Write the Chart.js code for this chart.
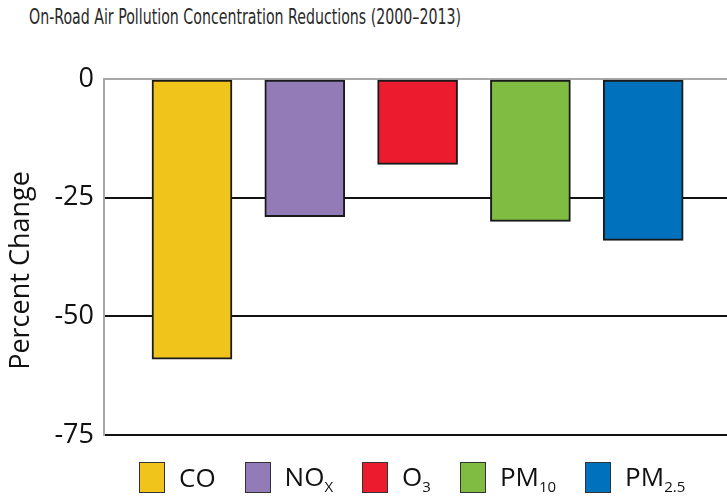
<!DOCTYPE html>
<html>
<head>
<meta charset="utf-8">
<script src="https://cdn.jsdelivr.net/npm/chart.js@4.4.1/dist/chart.umd.min.js"></script>
<style>
  html, body { margin: 0; padding: 0; background: #fff; overflow: hidden; width: 727px; height: 499px; }
  #title { position: absolute; left: 29px; top: 4px; font: 22px "DejaVu Sans Condensed", "Liberation Sans", sans-serif; color: #2a2a2a; white-space: nowrap; transform-origin: 0 0; }
  #wrap { position: absolute; left: 0; top: 0; width: 800px; height: 499px; }
  #legend { position: absolute; left: 139px; top: 458px; display: flex; align-items: center; font: 26px "Open Sans", sans-serif; color: #111; }
  .item { display: flex; align-items: center; margin-right: 29px; }
  .box { width: 24px; height: 29px; border: 1.5px solid #333; margin-right: 14px; }
  sub { font-size: 15px; vertical-align: -6px; }
</style>
</head>
<body>
<div id="title">On-Road Air Pollution Concentration Reductions (2000–2013)</div>
<div id="wrap"><canvas id="chart1" width="800" height="499"></canvas></div>
<div id="legend"></div>
<script>
// Data dari gambar
const pollutants = ['CO', 'NO', 'O', 'PM', 'PM'];
const subscripts = ['', 'X', '3', '10', '2.5'];
const percentChange = [-59, -29, -18, -30, -34];
const barColors = ['#f0c41a', '#937bb8', '#ec1c2e', '#80bc41', '#0071bc'];
const yTicks = [0, -25, -50, -75];

// Judul dipersempit supaya mirip font condensed
const title = document.getElementById('title');
title.style.transform = 'scaleX(' + (432 / title.getBoundingClientRect().width) + ')';

// Legend HTML (karena ada subscript)
const legend = document.getElementById('legend');
pollutants.forEach((name, i) => {
    const item = document.createElement('div');
    item.className = 'item';
    const box = document.createElement('span');
    box.className = 'box';
    box.style.background = barColors[i];
    const label = document.createElement('span');
    label.innerHTML = name + (subscripts[i] ? '<sub>' + subscripts[i] + '</sub>' : '');
    item.appendChild(box);
    item.appendChild(label);
    legend.appendChild(item);
});

const ctx = document.getElementById('chart1').getContext('2d');
window.chart = new Chart(ctx, {
    type: 'bar',
    data: {
        datasets: [{
            data: percentChange.map((v, i) => ({ x: i + 1, y: v })),
            backgroundColor: barColors,
            borderColor: '#1a1a1a',
            borderWidth: 2,
            borderSkipped: false,
            barThickness: 80
        }]
    },
    options: {
        responsive: false,
        animation: false,
        layout: { padding: { top: 79, bottom: 64, left: 0, right: 0 } },
        plugins: { legend: { display: false }, tooltip: { enabled: false } },
        scales: {
            x: {
                type: 'linear',
                offset: false,
                min: 0.22,
                max: 6.39,
                display: false
            },
            y: {
                min: -75,
                max: 0,
                afterFit: (scale) => { scale.width = 104; },
                afterBuildTicks: (scale) => { scale.ticks = yTicks.map(v => ({ value: v })); },
                border: { display: true, color: '#a8a8a8', width: 2 },
                grid: {
                    drawTicks: false,
                    color: (c) => c.tick && c.tick.value === 0 ? '#a8a8a8' : '#111',
                    lineWidth: 2
                },
                ticks: {
                    padding: 10,
                    color: '#111',
                    font: { family: 'Open Sans', size: 27 }
                },
                title: {
                    display: true,
                    // spasi di akhir menggeser teks sedikit ke bawah
                    text: 'Percent Change\u2002\u2002',
                    color: '#111',
                    font: { family: 'Open Sans', size: 27 },
                    padding: { top: 5, bottom: 0 }
                }
            }
        }
    }
});
</script>
</body>
</html>
